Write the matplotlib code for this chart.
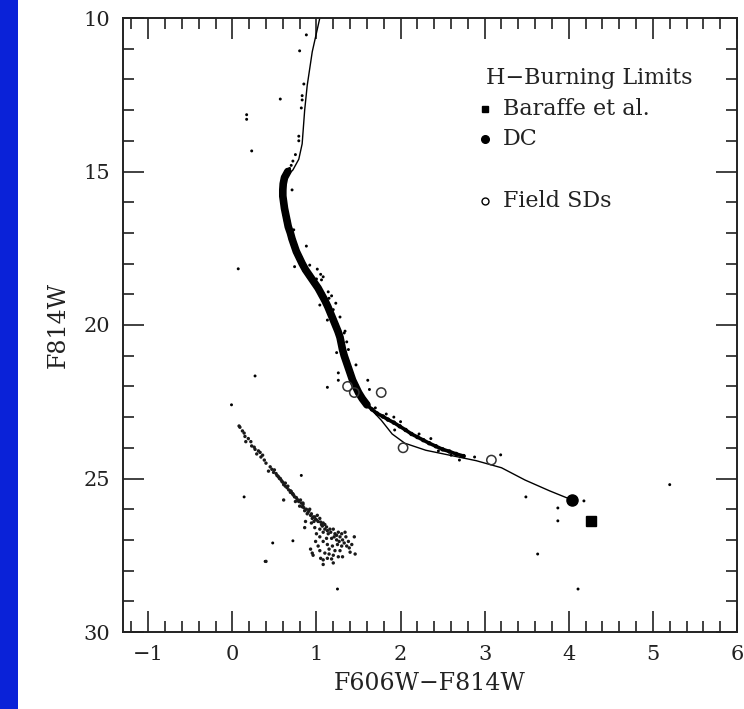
import matplotlib
matplotlib.use("Agg")
import matplotlib.pyplot as plt
from matplotlib.patches import Rectangle
from matplotlib.ticker import MultipleLocator

plt.rcParams['font.family'] = ['DejaVu Serif']
plt.rcParams['axes.unicode_minus'] = True

# isochrone (solid line)
iso_color = [1.04, 0.95, 0.89, 0.86, 0.83, 0.79, 0.72, 0.65, 0.61, 0.60, 0.62,
             0.66, 0.72, 0.80, 0.90, 1.03, 1.13, 1.22, 1.28, 1.32, 1.38, 1.45,
             1.55, 1.65, 1.77, 1.90, 2.05, 2.30, 2.60, 2.90, 3.20, 3.48, 3.77, 4.04]
iso_mag = [10.0, 11.1, 12.2, 13.0, 14.1, 14.6, 14.95, 15.15, 15.4, 15.8, 16.3,
           16.8, 17.3, 17.85, 18.35, 18.8, 19.3, 19.9, 20.4, 20.9, 21.4, 21.9,
           22.4, 22.75, 23.1, 23.55, 23.85, 24.08, 24.25, 24.42, 24.65, 25.05, 25.4, 25.7]

# dense main-sequence ridge (thick band)
ridge_color = [0.66, 0.62, 0.605, 0.60, 0.60, 0.61, 0.62, 0.635, 0.65, 0.665,
               0.69, 0.71, 0.735, 0.76, 0.795, 0.83, 0.87, 0.92, 0.97, 1.02,
               1.06, 1.10, 1.135, 1.165, 1.195, 1.225, 1.255, 1.28, 1.295, 1.31,
               1.33, 1.355, 1.38, 1.405, 1.43, 1.465, 1.50, 1.545, 1.60]
ridge_mag = [15.0, 15.2, 15.4, 15.6, 15.8, 16.0, 16.2, 16.4, 16.6, 16.8,
             17.0, 17.2, 17.4, 17.6, 17.8, 18.0, 18.2, 18.4, 18.6, 18.8,
             19.0, 19.2, 19.4, 19.6, 19.8, 20.0, 20.2, 20.4, 20.6, 20.8,
             21.0, 21.2, 21.4, 21.6, 21.8, 22.0, 22.2, 22.4, 22.6]

# fainter, thinner part of the main sequence
lower_color = [1.60, 1.66, 1.72, 1.79, 1.85, 1.92, 1.99, 2.06, 2.13, 2.20, 2.27,
               2.34, 2.42, 2.50, 2.58, 2.66, 2.75]
lower_mag = [22.6, 22.75, 22.88, 22.98, 23.08, 23.18, 23.30, 23.42, 23.55, 23.65, 23.75,
             23.85, 23.95, 24.05, 24.12, 24.20, 24.27]

# individual stars (field, giants, scatter around MS)
star_color = [0.88, 0.80, 0.85, 0.83, 0.83, 0.82, 0.79, 0.79, 0.75, 0.72, 0.70,
              0.68, 0.66, 0.57, 0.17, 0.17, 0.23, 0.07, 0.74, 0.88, 1.01, 1.08,
              1.06, 1.00, 1.14, 1.15, 1.04, 1.23, 1.28, 1.13, 1.33, 1.34, 1.38,
              1.24, 1.26, 1.26, 1.13, 1.61, 1.63, 1.92, 1.93, 2.45, 2.52, 2.60,
              2.70, 2.88, 3.19, 0.27, -0.01, 0.14, 0.82, 0.48, 0.72, 0.39, 1.25,
              5.20, 4.18, 3.49, 3.87, 3.87, 3.63, 4.11, 1.05, 1.20, 0.62, 1.47,
              0.71, 0.73, 0.92, 1.18, 1.36, 1.52, 1.70, 1.83, 2.00, 2.22, 2.36]
star_mag = [10.55, 11.07, 12.15, 12.53, 12.67, 12.93, 13.85, 14.0, 14.45, 14.66, 14.8,
            14.9, 15.05, 12.64, 13.15, 13.3, 14.33, 18.17, 18.1, 17.43, 18.18, 18.43,
            18.53, 18.5, 18.92, 19.13, 19.35, 19.29, 19.74, 19.84, 20.26, 20.2, 20.8,
            20.9, 21.56, 21.8, 22.03, 21.8, 22.1, 23.0, 23.42, 24.1, 24.07, 24.24,
            24.4, 24.3, 24.23, 21.66, 22.6, 25.6, 24.9, 27.1, 27.03, 27.7, 28.6,
            25.2, 25.73, 25.6, 25.96, 26.38, 27.46, 28.6, 18.35, 19.5, 16.5, 21.3,
            15.6, 16.9, 18.05, 19.05, 20.55, 22.3, 22.7, 22.9, 23.15, 23.55, 23.7]

# white dwarf sequence
wd_color = [0.08, 0.09, 0.14, 0.15, 0.16, 0.22, 0.23, 0.27, 0.31, 0.29, 0.36,
            0.45, 0.43, 0.49, 0.52, 0.55, 0.59, 0.61, 0.65, 0.67, 0.63, 0.71,
            0.74, 0.77, 0.81, 0.80, 0.61, 0.85, 0.86, 0.90, 0.93, 0.95, 0.98,
            0.97, 1.00, 1.04, 1.06, 1.08, 0.98, 1.04, 1.10, 1.12, 0.87, 0.86,
            1.16, 1.20, 1.08, 1.14, 1.22, 1.26, 1.30, 1.34, 1.00, 1.04, 1.12,
            1.18, 1.24, 1.28, 1.35, 1.45, 1.02, 1.08, 1.13, 1.19, 1.25, 1.30,
            1.36, 1.46, 1.39, 0.95, 0.96, 1.04, 1.10, 1.15, 1.20, 1.26, 1.31,
            1.08, 1.13, 1.20, 1.08, 0.40, 0.69, 0.75, 0.84, 0.92, 0.89, 1.01,
            0.47, 0.50, 0.53, 0.57, 0.58, 0.63, 0.66, 0.69, 0.72, 0.73, 0.76,
            0.79, 0.82, 0.84, 0.88, 0.91, 0.94, 0.96, 0.99, 1.02, 1.05, 1.07,
            0.94, 1.10, 1.13, 1.17, 1.21, 1.24, 1.27, 1.31, 1.33, 1.38, 1.42,
            1.15, 1.22, 1.28, 0.99, 1.05, 0.93, 1.40, 1.18, 0.72, 0.56, 0.40,
            0.34, 0.38, 0.12, 0.19, 0.26, 0.33, 0.54, 0.60, 0.70, 0.78, 0.83]
wd_mag = [23.29, 23.33, 23.52, 23.63, 23.80, 23.80, 23.94, 24.05, 24.10, 24.20, 24.24,
          24.62, 24.76, 24.80, 24.84, 24.95, 25.10, 25.20, 25.30, 25.37, 25.25, 25.48,
          25.60, 25.67, 25.70, 25.90, 25.70, 25.95, 26.05, 26.10, 26.20, 26.30, 26.25,
          26.40, 26.35, 26.30, 26.50, 26.45, 26.60, 26.65, 26.65, 26.58, 26.40, 26.60,
          26.65, 26.65, 26.75, 26.80, 26.80, 26.75, 26.80, 26.75, 26.80, 26.90, 26.95,
          26.95, 27.00, 26.90, 26.90, 26.90, 27.20, 27.05, 27.15, 27.20, 27.15, 27.20,
          27.20, 27.46, 27.26, 27.43, 27.50, 27.35, 27.43, 27.46, 27.50, 27.55, 27.55,
          27.65, 27.60, 27.75, 27.80, 27.70, 25.45, 25.75, 25.80, 26.00, 26.15, 26.20,
          24.70, 24.72, 24.90, 25.00, 25.05, 25.15, 25.25, 25.40, 25.50, 25.55, 25.62,
          25.75, 25.80, 25.85, 26.00, 26.05, 26.15, 26.25, 26.33, 26.40, 26.42, 26.55,
          26.45, 26.50, 26.70, 26.75, 26.90, 26.85, 27.05, 27.00, 27.10, 27.05, 27.15,
          27.30, 27.35, 27.35, 27.05, 27.60, 27.30, 27.40, 27.62, 25.52, 25.00, 24.50,
          24.30, 24.40, 23.45, 23.70, 23.98, 24.15, 24.92, 25.12, 25.42, 25.72, 25.92]

# field subdwarfs (open circles)
sd_color = [1.37, 1.45, 1.77, 2.03, 3.08]
sd_mag = [22.0, 22.2, 22.2, 24.0, 24.4]

# hydrogen-burning limits
dc_limit = (4.04, 25.7)
baraffe_limit = (4.27, 26.4)

fig = plt.figure(figsize=(7.44, 7.09), dpi=100)
fig.patches.append(Rectangle((0, 0), 18 / 744, 1, transform=fig.transFigure,
                             facecolor='#0a22d8', edgecolor='none', zorder=-1))
ax = fig.add_axes([123 / 744, 77 / 709, 614 / 744, 614 / 709])

ax.plot(iso_color, iso_mag, color='black', lw=1.0, zorder=2)
# thick band of the upper main sequence
ax.plot(ridge_color, ridge_mag, color='black', lw=5.5, solid_capstyle='round',
        solid_joinstyle='round', zorder=3)
ax.scatter(ridge_color, ridge_mag, s=22, color='black', edgecolors='none', zorder=3)
ax.plot(lower_color, lower_mag, color='black', lw=2.6, solid_capstyle='round', zorder=3)
ax.scatter(lower_color, lower_mag, s=10, color='black', edgecolors='none', zorder=3)
ax.scatter(star_color, star_mag, s=4.5, color='black', edgecolors='none', zorder=3)
ax.scatter(wd_color, wd_mag, s=6, color='#1a1a1a', edgecolors='none', zorder=3)
ax.scatter(sd_color, sd_mag, s=45, facecolors='none', edgecolors='#333333',
           linewidths=1.1, zorder=4)
ax.plot(*dc_limit, 'o', color='black', ms=8, zorder=5)
ax.plot(*baraffe_limit, 's', color='black', ms=7.5, zorder=5)

# legend block
fs_leg = 16
ax.text(3.02, 11.95, 'H\u2212Burning Limits', fontsize=fs_leg, va='center', ha='left',
        color='#222222')
ax.plot(3.0, 12.95, 's', color='black', ms=5)
ax.text(3.22, 12.95, 'Baraffe et al.', fontsize=fs_leg, va='center', ha='left',
        color='#222222')
ax.plot(3.0, 13.95, 'o', color='black', ms=5.5)
ax.text(3.22, 13.95, 'DC', fontsize=fs_leg, va='center', ha='left', color='#222222')
ax.plot(3.0, 15.95, 'o', mfc='none', mec='black', ms=5, mew=1)
ax.text(3.22, 15.95, 'Field SDs', fontsize=fs_leg, va='center', ha='left',
        color='#222222')

ax.set_xlim(-1.3, 6.0)
ax.set_ylim(30, 10)
ax.xaxis.set_major_locator(MultipleLocator(1))
ax.xaxis.set_minor_locator(MultipleLocator(0.2))
ax.yaxis.set_major_locator(MultipleLocator(5))
ax.yaxis.set_minor_locator(MultipleLocator(1))
ax.tick_params(which='both', direction='in', top=True, right=True,
               width=1.3, color='#333333', labelsize=15, labelcolor='#222222')
ax.tick_params(which='major', length=15, pad=9)
ax.tick_params(which='minor', length=8)
for sp in ax.spines.values():
    sp.set_linewidth(1.4)
    sp.set_color('#222222')

ax.set_xlabel('F606W\u2212F814W', fontsize=17, labelpad=6, color='#222222')
ax.set_ylabel('F814W', fontsize=17, labelpad=10, color='#222222')

fig.savefig('out.png', dpi=100)
